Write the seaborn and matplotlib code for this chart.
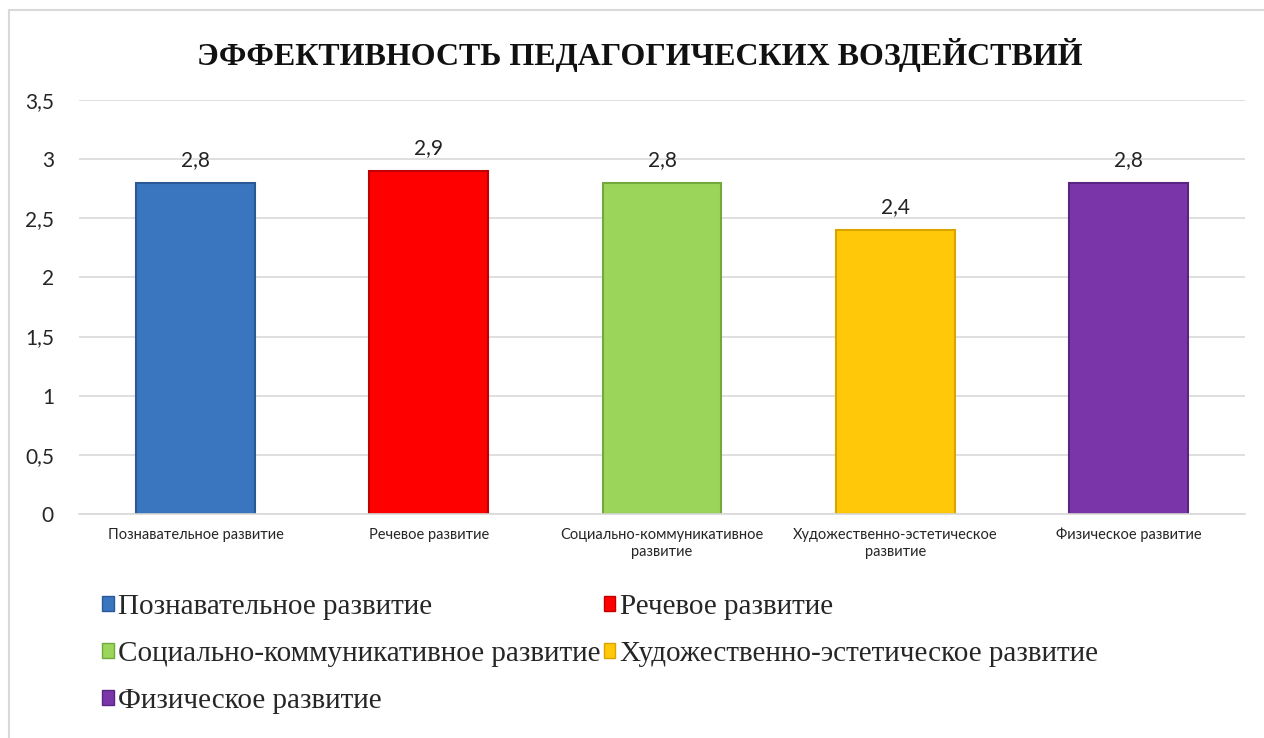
import matplotlib
matplotlib.use("Agg")
import matplotlib.pyplot as plt
import matplotlib.patches as mpatches
import seaborn as sns
import pandas as pd

# данные диаграммы
categories = ["Познавательное развитие", "Речевое развитие",
              "Социально-коммуникативное развитие",
              "Художественно-эстетическое развитие", "Физическое развитие"]
tick_labels = ["Познавательное развитие", "Речевое развитие",
               "Социально-коммуникативное\nразвитие",
               "Художественно-эстетическое\nразвитие", "Физическое развитие"]
values = [2.8, 2.9, 2.8, 2.4, 2.8]
value_labels = ["2,8", "2,9", "2,8", "2,4", "2,8"]
y_ticks = [0, 0.5, 1, 1.5, 2, 2.5, 3, 3.5]
y_tick_labels = ["0", "0,5", "1", "1,5", "2", "2,5", "3", "3,5"]
colors = ["#3A75C0", "#FF0000", "#9BD65A", "#FFC808", "#7A36A8"]
edge_colors = ["#2A5A96", "#C00000", "#72A93C", "#D9A300", "#5A2580"]

title = "ЭФФЕКТИВНОСТЬ ПЕДАГОГИЧЕСКИХ ВОЗДЕЙСТВИЙ"

sns.set_theme(style="white")
plt.rcParams['font.family'] = ['Lato', 'DejaVu Sans']

df = pd.DataFrame({"cat": categories, "val": values})

fig = plt.figure(figsize=(12.64, 7.38), dpi=100, facecolor="white")
ax = fig.add_axes([79 / 1264, 1 - 514 / 738, (1245 - 79) / 1264, (514 - 100) / 738])

sns.barplot(data=df, x="cat", y="val", hue="cat", palette=colors, dodge=False,
            legend=False, width=0.51, ax=ax, saturation=1)

for bar, ec in zip(ax.patches, edge_colors):
    bar.set_edgecolor(ec)
    bar.set_linewidth(1.5)

ax.set_ylim(0, 3.5)
ax.set_xlim(-0.5, len(categories) - 0.5)
ax.set_yticks(y_ticks)
ax.set_yticklabels(y_tick_labels, fontsize=15)
ax.set_xticks(range(len(categories)))
ax.set_xticklabels(tick_labels, fontsize=10.5, linespacing=1.3)
ax.set_xlabel("")
ax.set_ylabel("")
ax.yaxis.grid(True, color="#D9D9D9", linewidth=1.2)
ax.set_axisbelow(True)
for s in ["top", "right", "left"]:
    ax.spines[s].set_visible(False)
ax.spines["bottom"].set_color("#D9D9D9")
ax.spines["bottom"].set_linewidth(1.2)
ax.tick_params(axis="y", length=0, pad=18)
ax.tick_params(axis="x", length=0, pad=10)

for i, (v, lab) in enumerate(zip(values, value_labels)):
    ax.text(i, v + 0.11, lab, ha="center", va="bottom", fontsize=15, color="#222222")

fig.text(0.506, 0.925, title, ha="center", va="center", fontsize=23, fontweight="bold",
         family=["Liberation Serif", "DejaVu Serif"], color="#111111")

# легенда: порядок по строкам, как в оригинале
handles = [mpatches.Patch(facecolor=c, edgecolor=e, label=l)
           for c, e, l in zip(colors, edge_colors, categories)]
order = [0, 2, 4, 1, 3]
leg = fig.legend([handles[i] for i in order], [categories[i] for i in order],
                 loc="upper left", bbox_to_anchor=(76 / 1264, 1 - 568 / 738), ncol=2,
                 frameon=False, prop={"family": "Liberation Serif", "size": 21},
                 handlelength=0.4, handleheight=0.4, handletextpad=0.15,
                 columnspacing=0.1, labelspacing=0.72)

# рамка области диаграммы
fig.add_artist(mpatches.Rectangle((9 / 1264, -0.1), 1.2, 1 - 10 / 738 + 0.1,
                                  transform=fig.transFigure, fill=False,
                                  edgecolor="#D9D9D9", linewidth=1.5))

fig.savefig("out.png", dpi=100, facecolor="white")
